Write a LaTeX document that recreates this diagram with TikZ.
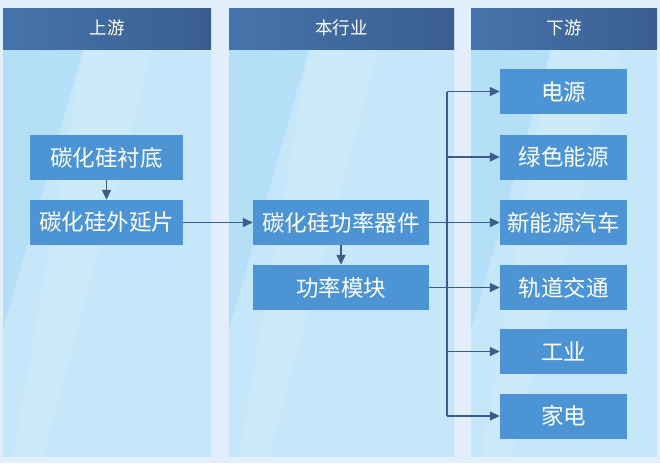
\documentclass[tikz,border=0pt]{standalone}
\usepackage{fontspec}
\setmainfont{Noto Sans CJK SC}
\usetikzlibrary{arrows.meta}
\definecolor{bgc}{HTML}{E2EEFB}
\definecolor{bodyc}{HTML}{C6E6FA}
\definecolor{streakc}{HTML}{A6DAF6}
\definecolor{headl}{HTML}{4574AC}
\definecolor{headr}{HTML}{3A5E8E}
\definecolor{boxc}{HTML}{4C94D4}
\definecolor{arrc}{HTML}{3A5D8C}
\tikzset{
  colbody/.style={fill=bodyc},
  colhead/.style={left color=headl, right color=headr, draw=none},
  headtext/.style={text=white, font=\fontsize{17.5}{17.5}\selectfont},
  chainbox/.style={rectangle, fill=boxc, text=white, inner sep=0pt,
    minimum height=45pt, font=\fontsize{22.5}{22.5}\selectfont},
  arr/.style={draw=arrc, line width=1.4pt, -{Triangle[length=10pt,width=9pt]}},
  trunkline/.style={draw=arrc, line width=1.4pt}
}
\begin{document}
\begin{tikzpicture}[x=1pt,y=-1pt]
\useasboundingbox (0,0) rectangle (660,463);
\fill[bgc] (0,0) rectangle (660,463);
% column bodies with streaks
\foreach \xa/\xb in {3/211, 229/454, 471/657} {
  \fill[colbody] (\xa,49) rectangle (\xb,457);
  \begin{scope}
    \clip (\xa,49) rectangle (\xb,457);
    \fill[streakc, opacity=0.5] (\xa,49) -- (\xa+80,49) -- (\xa,330) -- cycle;
    \fill[white, opacity=0.12] (\xa+80,49) -- (\xa+150,49) -- (\xa+40,457) -- (\xa+10,457) -- cycle;
  \end{scope}
}
% headers
\shade[colhead] (3,8) rectangle (211,49);
\shade[colhead] (229,8) rectangle (454,49);
\shade[colhead] (471,8) rectangle (657,49);
\node[headtext] (h1) at (107,28) {上游};
\node[headtext] (h2) at (341.5,28) {本行业};
\node[headtext] (h3) at (564,28) {下游};
% boxes
\node[chainbox, minimum width=153pt] (sub) at (106.5,157.5) {碳化硅衬底};
\node[chainbox, minimum width=153pt] (epi) at (106.5,222.5) {碳化硅外延片};
\node[chainbox, minimum width=176pt] (dev) at (341,222.5) {碳化硅功率器件};
\node[chainbox, minimum width=176pt] (mod) at (341,287.5) {功率模块};
\node[chainbox, minimum width=127pt] (r1) at (563.5,91.5) {电源};
\node[chainbox, minimum width=127pt] (r2) at (563.5,157) {绿色能源};
\node[chainbox, minimum width=127pt] (r3) at (563.5,222.5) {新能源汽车};
\node[chainbox, minimum width=127pt] (r4) at (563.5,287.5) {轨道交通};
\node[chainbox, minimum width=127pt] (r5) at (563.5,351.5) {工业};
\node[chainbox, minimum width=127pt] (r6) at (563.5,416) {家电};
% connectors
\coordinate (trunk) at (447,0);
\draw[arr] (sub) -- (epi);
\draw[arr] (epi) -- (dev);
\draw[arr] (dev) -- (mod);
\draw[trunkline] (dev.east) -- (dev.east -| trunk);
\draw[trunkline] (mod.east) -- (mod.east -| trunk);
\draw[trunkline] (r1.west -| trunk) -- (r6.west -| trunk);
\foreach \r in {r1,r2,r3,r4,r5,r6} {
  \draw[arr] (\r.west -| trunk) -- (\r.west);
}
\end{tikzpicture}
\end{document}
